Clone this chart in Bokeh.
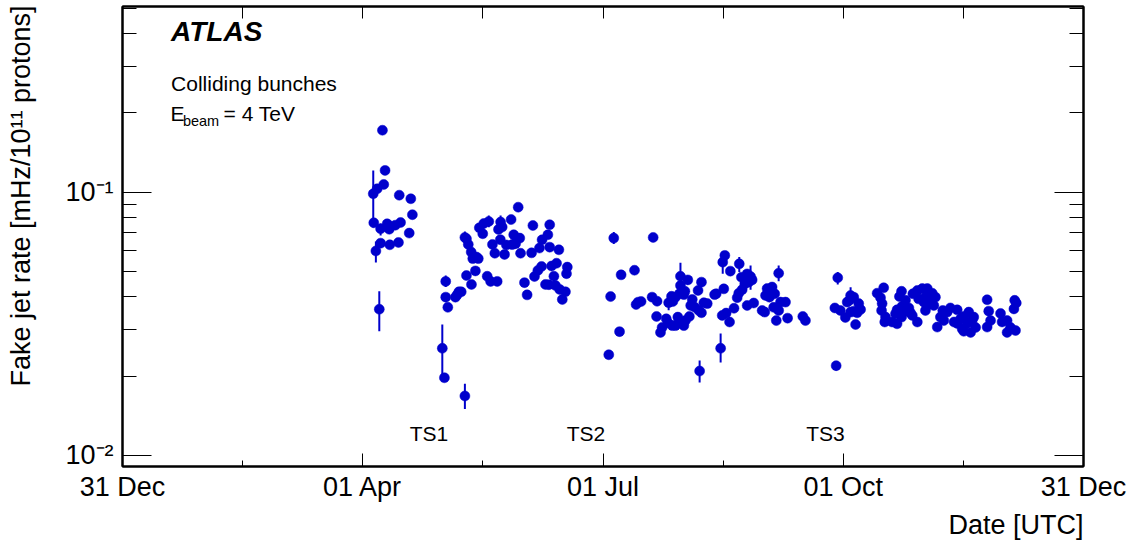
import math
from bokeh.plotting import figure
from bokeh.models import FixedTicker, LinearAxis, LogAxis, Label, Range1d, ColumnDataSource, Title
from bokeh.embed import file_html
from bokeh.resources import INLINE

FONT = "Liberation Sans"
BLUE = "#0000cc"

# x values: days since 31 Dec 2011 ; y values: fake jet rate [mHz / 1e11 protons]
april = [(95.5, 0.0986), (95.7, 0.0765), (96.5, 0.0598), (97.0, 0.103), (97.8, 0.0359),
         (98.3, 0.0726), (98.3, 0.0640), (99.0, 0.172), (99.5, 0.107), (100.0, 0.121),
         (100.8, 0.0758), (101.6, 0.0723), (101.8, 0.0631), (102.1, 0.0741), (103.9, 0.0749),
         (105.1, 0.0644), (105.4, 0.0974), (105.9, 0.0767), (109.2, 0.0699), (109.8, 0.0944),
         (110.4, 0.0821)]

may_june = [(121.8, 0.0255), (122.6, 0.0197), (123.1, 0.0458), (123.1, 0.0399), (123.9, 0.0365),
            (126.8, 0.0399), (127.5, 0.0408), (128.1, 0.0418), (129.0, 0.0418), (130.4, 0.0168),
            (130.4, 0.0673), (131.0, 0.0665), (131.0, 0.0482), (131.7, 0.0633), (132.8, 0.0592),
            (132.9, 0.0446), (133.4, 0.0559), (134.4, 0.0502), (134.8, 0.0567), (135.5, 0.0559),
            (135.9, 0.0732), (137.2, 0.0695), (137.6, 0.0760), (138.9, 0.0479), (139.5, 0.0774),
            (140.2, 0.0458), (140.9, 0.0633), (141.8, 0.0586), (142.7, 0.0458), (143.2, 0.0722),
            (143.9, 0.0660), (144.0, 0.0770), (144.6, 0.0737), (145.5, 0.0580), (146.2, 0.0630),
            (148.0, 0.0787), (148.4, 0.0632), (149.0, 0.0689), (149.7, 0.0637), (150.3, 0.0665),
            (150.7, 0.0877), (151.3, 0.0669), (151.6, 0.0586), (153.1, 0.0453), (154.1, 0.0407),
            (155.8, 0.0588), (156.3, 0.0747), (156.9, 0.0478), (158.2, 0.0504), (158.8, 0.0613),
            (159.6, 0.0522), (159.8, 0.0659), (161.1, 0.0446), (162.0, 0.0689), (162.4, 0.0445),
            (162.7, 0.0752), (162.7, 0.0618), (163.4, 0.0524), (164.3, 0.0479), (164.9, 0.0442),
            (165.3, 0.0537), (166.2, 0.0604), (166.5, 0.0427), (167.5, 0.0391), (168.7, 0.0418),
            (169.1, 0.0490), (169.4, 0.0519)]

july = [(185.2, 0.0241), (185.9, 0.0401), (187.1, 0.0669), (189.3, 0.0295), (189.9, 0.0485),
        (195.0, 0.0505), (195.6, 0.0374), (196.4, 0.0382), (197.5, 0.0384), (201.7, 0.0399),
        (202.1, 0.0673), (203.4, 0.0337), (203.6, 0.0385), (204.9, 0.0293), (205.5, 0.0306),
        (207.1, 0.0330), (207.8, 0.0318), (208.0, 0.0380), (209.1, 0.0402), (209.4, 0.0311),
        (209.6, 0.0384), (210.6, 0.0311), (210.6, 0.0399), (211.5, 0.0335), (212.1, 0.0411),
        (212.5, 0.0479), (212.5, 0.0442), (213.4, 0.0316), (213.8, 0.0311), (213.8, 0.0408),
        (214.2, 0.0420), (214.4, 0.0325), (215.3, 0.0464), (215.9, 0.0337), (216.4, 0.0371),
        (217.0, 0.0391), (218.0, 0.0365), (219.2, 0.0423), (219.5, 0.0355), (219.8, 0.0209),
        (220.5, 0.0455), (220.5, 0.0348), (221.4, 0.0380), (222.7, 0.0377), (225.5, 0.0408)]

aug_sep = [(226.1, 0.0411), (227.8, 0.0255), (228.4, 0.0340), (228.6, 0.0542), (229.0, 0.0429),
           (229.4, 0.0575), (229.9, 0.0347), (231.2, 0.0321), (231.5, 0.0501), (232.9, 0.0362),
           (234.1, 0.0397), (234.7, 0.0413), (234.9, 0.0534), (235.7, 0.0475), (236.0, 0.0426),
           (237.0, 0.0448), (237.9, 0.0489), (237.9, 0.0371), (238.5, 0.0455), (239.2, 0.0478),
           (239.8, 0.0464), (240.4, 0.0379), (243.6, 0.0355), (244.6, 0.0350), (244.9, 0.0405),
           (245.5, 0.0430), (246.4, 0.0399), (247.4, 0.0436), (248.0, 0.0365), (248.4, 0.0411),
           (249.0, 0.0325), (249.9, 0.0492), (249.9, 0.0355), (250.6, 0.0382), (252.5, 0.0382),
           (253.3, 0.0332), (259.1, 0.0337), (260.1, 0.0325)]

oct_nov = [(271.3, 0.0363), (271.8, 0.0219), (272.4, 0.0473), (273.4, 0.0355), (275.3, 0.0334),
           (276.0, 0.0382), (276.9, 0.0388), (277.3, 0.0405), (277.3, 0.0350), (278.5, 0.0399),
           (278.5, 0.0353), (279.2, 0.0314), (279.8, 0.0348), (280.4, 0.0377), (281.1, 0.0358),
           (287.4, 0.0413), (288.7, 0.0397), (289.1, 0.0355), (289.3, 0.0377), (289.9, 0.0433),
           (290.3, 0.0321), (290.6, 0.0335), (293.1, 0.0321), (294.4, 0.0345), (295.0, 0.0316),
           (295.0, 0.0357), (295.9, 0.0401), (296.7, 0.0420), (296.7, 0.0335), (296.9, 0.0368),
           (298.2, 0.0388), (298.5, 0.0353), (299.5, 0.0363), (300.1, 0.0348), (300.8, 0.0340),
           (301.0, 0.0411), (302.7, 0.0423), (302.7, 0.0321), (303.2, 0.0393), (304.6, 0.0430),
           (305.2, 0.0382), (305.8, 0.0399), (305.8, 0.0355), (306.5, 0.0430), (306.5, 0.0371),
           (307.7, 0.0388), (308.4, 0.0413), (309.0, 0.0371), (309.6, 0.0399), (310.3, 0.0307),
           (311.5, 0.0335), (312.4, 0.0355), (312.8, 0.0325), (314.1, 0.0350), (315.3, 0.0363),
           (316.7, 0.0321), (317.9, 0.0357), (317.9, 0.0317), (319.2, 0.0330), (319.8, 0.0302),
           (320.4, 0.0337), (320.4, 0.0296), (321.7, 0.0317), (322.3, 0.0350), (323.0, 0.0293),
           (323.6, 0.0325), (324.2, 0.0335), (324.9, 0.0306), (329.3, 0.0390), (329.3, 0.0307),
           (329.9, 0.0353), (330.6, 0.0325), (334.4, 0.0346), (335.0, 0.0321), (336.9, 0.0325),
           (336.9, 0.0293), (338.2, 0.0306), (339.5, 0.0360), (339.8, 0.0388), (340.1, 0.0298),
           (340.4, 0.0379)]

# visible error bars: (day, low, high)
error_bars = [(95.5, 0.0734, 0.121), (96.5, 0.0540, 0.0650), (97.8, 0.0296, 0.0420),
              (98.3, 0.0685, 0.0760), (121.8, 0.0197, 0.0314), (123.1, 0.0436, 0.0482),
              (130.4, 0.0150, 0.0187), (130.4, 0.0649, 0.0709), (139.5, 0.0735, 0.0815),
              (144.0, 0.0726, 0.0815), (187.1, 0.0636, 0.0705), (208.0, 0.0356, 0.0404),
              (212.5, 0.0420, 0.0539), (219.8, 0.0189, 0.0229), (227.8, 0.0225, 0.0290),
              (228.6, 0.0490, 0.0595), (234.9, 0.0497, 0.0567), (239.2, 0.0426, 0.0526),
              (249.9, 0.0459, 0.0526), (271.8, 0.0210, 0.0228), (272.4, 0.0446, 0.0497),
              (277.3, 0.0390, 0.0435)]

x_tick_days = [0, 91.5, 183, 274.5, 366]
x_tick_labels = ["31 Dec", "01 Apr", "01 Jul", "01 Oct", "31 Dec"]
x_minor_days = [45.75, 137.25, 228.75, 320.25]
y_major = [0.01, 0.1]
y_tick_labels = ["10\u207b\u00b2", "10\u207b\u00b9"]
y_minor = [0.02, 0.03, 0.04, 0.05, 0.06, 0.07, 0.08, 0.09, 0.2, 0.3, 0.4, 0.5]

tech_stops = [("TS1", 116.7), ("TS2", 176.5), ("TS3", 267.7)]

points = april + may_june + july + aug_sep + oct_nov
src = ColumnDataSource(dict(day=[d for d, r in points], rate=[r for d, r in points]))
err_src = ColumnDataSource(dict(day=[e[0] for e in error_bars],
                                lo=[e[1] for e in error_bars],
                                hi=[e[2] for e in error_bars]))

p = figure(width=1139, height=549, x_range=Range1d(0, 366), y_range=Range1d(0.00906, 0.508),
           y_axis_type="log", output_backend="svg", toolbar_location=None,
           min_border_left=122, min_border_right=56, min_border_top=6, min_border_bottom=83)
p.grid.visible = False
p.outline_line_color = "black"
p.outline_line_width = 2
p.background_fill_color = "white"
p.border_fill_color = "white"

xt = FixedTicker(ticks=x_tick_days, minor_ticks=x_minor_days)
yt = FixedTicker(ticks=y_major, minor_ticks=y_minor)

def style_axis(ax, maj, mino):
    ax.axis_line_width = 2
    ax.axis_line_color = "black"
    ax.major_tick_in = maj
    ax.major_tick_out = 0
    ax.minor_tick_in = mino
    ax.minor_tick_out = 0
    ax.major_tick_line_width = 1
    ax.minor_tick_line_width = 1
    ax.major_tick_line_color = "black"
    ax.minor_tick_line_color = "black"
    ax.major_label_text_font = FONT
    ax.major_label_text_color = "black"

xa = p.xaxis[0]
xa.ticker = xt
style_axis(xa, 13, 6)
xa.major_label_overrides = {d: l for d, l in zip(x_tick_days, x_tick_labels)}
xa.major_label_text_font_size = "27px"
xa.major_label_standoff = 5

ya = p.yaxis[0]
ya.ticker = yt
style_axis(ya, 29, 14)
ya.major_label_overrides = {v: l for v, l in zip(y_major, y_tick_labels)}
ya.major_label_text_font_size = "27px"
ya.major_label_standoff = 9
ya.axis_label = "\u2003\u2003\u2003Fake jet rate [mHz/10\u00b9\u00b9 protons]"
ya.axis_label_text_font = FONT
ya.axis_label_text_font_size = "27px"
ya.axis_label_text_font_style = "normal"
ya.axis_label_text_color = "black"
ya.axis_label_standoff = 26

ra = LogAxis(ticker=yt)
style_axis(ra, 29, 14)
ra.major_label_overrides = {v: "" for v in y_major}
ra.major_label_text_font_size = "1px"
ra.major_label_standoff = 0
p.add_layout(ra, "right")

ta = LinearAxis(ticker=xt)
style_axis(ta, 12, 12)
ta.major_label_overrides = {d: "" for d in x_tick_days}
ta.major_label_text_font_size = "1px"
ta.major_label_standoff = 0
p.add_layout(ta, "above")

p.add_layout(Title(text="Date [UTC]", align="right", text_font=FONT, text_font_size="27px",
                   text_font_style="normal", text_color="black", standoff=7), "below")

p.segment(x0="day", y0="lo", x1="day", y1="hi", source=err_src, line_color=BLUE, line_width=2)
p.scatter(x="day", y="rate", source=src, size=10, marker="circle",
          fill_color=BLUE, line_color=BLUE, line_width=0.5)

def lab(x, y, text, size, **kw):
    l = Label(x=x, y=y, text=text, text_font=FONT, text_font_size=size,
              text_color="black", **kw)
    p.add_layout(l)
    return l

lab(18.5, 0.356, "ATLAS", "28px", text_font_style="bold italic")
lab(18.5, 0.2332, "Colliding bunches", "21px")
lab(18.3, 0.1793, "E", "21px")
lab(23.0, 0.1735, "beam", "14.5px")
lab(38.5, 0.1793, "= 4 TeV", "21px")
for name, d in tech_stops:
    lab(d, 0.01095, name, "21px", text_align="center")

open("out.html", "w").write(file_html(p, INLINE))
